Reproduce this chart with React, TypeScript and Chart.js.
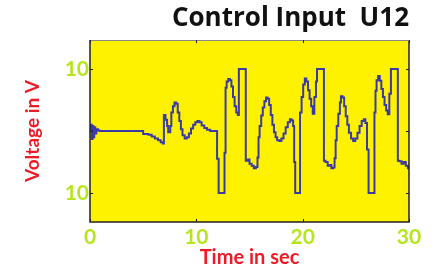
import React, { useEffect, useRef } from "react";
import { Chart, registerables } from "chart.js";

Chart.register(...registerables);

const titleText = "Control Input  U12";
const xTitle = "Time in sec";
const yTitle = "Voltage in V";

const xTickValues = [0, 10, 20, 30];
const yTickValues = [-10, 0, 10];
const yTickLabels = ["10", "", "10"];

const times = [
  0, 0.08, 0.16, 0.24, 0.32, 0.4, 0.5, 0.6, 0.75, 0.9,
  5.0, 5.5, 5.8, 6.1, 6.4, 6.65, 6.85, 6.95, 7.1, 7.25,
  7.35, 7.55, 7.65, 7.8, 7.95, 8.1, 8.25, 8.4, 8.55, 8.7,
  8.9, 9.1, 9.3, 9.5, 9.7, 9.9, 10.1, 10.3, 10.5, 10.75,
  11.0, 11.3, 11.6, 11.95, 12.1, 12.65, 12.75, 12.85, 13.0, 13.15,
  13.3, 13.45, 13.6, 13.75, 13.9, 14.0, 14.65, 14.85, 15.0, 15.2,
  15.4, 15.6, 15.75, 15.85, 15.95, 16.1, 16.25, 16.4, 16.55, 16.7,
  16.85, 17.0, 17.15, 17.3, 17.45, 17.6, 17.8, 18.0, 18.2, 18.4,
  18.6, 18.8, 18.95, 19.1, 19.2, 19.3, 19.75, 19.9, 20.05, 20.2,
  20.35, 20.5, 20.65, 20.8, 20.95, 21.1, 21.25, 21.35, 22.0, 22.15,
  22.35, 22.55, 22.7, 22.85, 23.0, 23.1, 23.2, 23.35, 23.5, 23.6,
  23.75, 23.9, 24.05, 24.2, 24.35, 24.55, 24.75, 24.95, 25.15, 25.35,
  25.55, 25.75, 25.9, 26.05, 26.2, 26.75, 26.85, 26.95, 27.1, 27.25,
  27.4, 27.55, 27.7, 27.85, 28.0, 28.15, 28.3, 28.95, 29.1, 29.3,
  29.5, 29.7, 29.9, 30,
];

const voltages = [
  0, 1.0, -1.3, 0.8, -1.0, 0.6, -0.4, 0.3, 0.1, 0,
  -0.5, -0.6, -0.9, -1.2, -1.5, -1.8, -2.0, 2.6, 1.8, 0.8,
  -0.2, 0.8, 3.0, 4.0, 4.6, 4.4, 3.0, 1.6, 0.3, -0.7,
  -1.2, -1.0, -0.4, 0.4, 1.0, 1.4, 1.6, 1.4, 0.9, 0.5,
  0.2, 0.0, 0.0, -4.5, -10, -3.5, 7.0, 8.0, 8.4, 8.2,
  7.2, 5.5, 4.0, 3.0, 2.6, 10, -4.8, -4.6, -5.3, -5.6,
  -6.0, -5.8, -4.3, -1.0, 0.8, 2.5, 3.8, 4.8, 5.4, 5.2,
  4.2, 2.6, 1.0, -0.2, -1.0, -1.5, -1.6, -1.2, -0.4, 0.6,
  1.4, 1.9, 1.7, 0.8, -5.0, -10, 3.0, 5.5, 7.5, 8.5,
  8.0, 6.6, 5.2, 4.0, 2.8, 5.5, 8.0, 10, -4.8, -5.0,
  -5.6, -5.5, -6.0, -5.9, -4.4, -1.5, 0.8, 2.8, 4.6, 5.6,
  5.4, 4.0, 2.4, 1.0, -0.3, -1.2, -1.6, -1.2, -0.3, 0.8,
  1.6, 1.9, 1.3, -3.0, -10, 3.0, 6.5, 8.2, 8.9, 8.1,
  6.8, 5.5, 4.2, 3.3, 2.7, 6.0, 10, -4.8, -4.9, -5.3,
  -5.0, -5.6, -6.0, -6.0,
];

const YELLOW = "#FFF200";
const GREEN = "#B5E61D";
const RED = "#ED1C24";
const LINE = "#3a3aa6";

const framePlugin = {
  id: "frame",
  beforeDatasetsDraw(chart: any) {
    const { ctx, chartArea: a } = chart;
    ctx.save();
    ctx.fillStyle = YELLOW;
    ctx.fillRect(a.left, a.top, a.right - a.left, a.bottom - a.top);
    ctx.restore();
  },
  afterDatasetsDraw(chart: any) {
    const { ctx, chartArea: a, scales } = chart;
    ctx.save();
    ctx.strokeStyle = "#222";
    ctx.lineWidth = 1.5;
    ctx.beginPath();
    ctx.moveTo(a.left, a.top);
    ctx.lineTo(a.left, a.bottom);
    ctx.lineTo(a.right, a.bottom);
    ctx.lineTo(a.right, a.top);
    ctx.stroke();
    ctx.strokeStyle = "#888";
    ctx.lineWidth = 1;
    ctx.beginPath();
    ctx.moveTo(a.left, a.top + 0.5);
    ctx.lineTo(a.right, a.top + 0.5);
    ctx.stroke();
    ctx.strokeStyle = "#222";
    ctx.beginPath();
    for (const v of xTickValues) {
      const px = Math.round(scales.x.getPixelForValue(v)) + 0.5;
      ctx.moveTo(px, a.bottom);
      ctx.lineTo(px, a.bottom - 3);
      ctx.moveTo(px, a.top);
      ctx.lineTo(px, a.top + 3);
    }
    for (const v of yTickValues) {
      const py = Math.round(scales.y.getPixelForValue(v)) + 0.5;
      ctx.moveTo(a.left, py);
      ctx.lineTo(a.left + 3, py);
      ctx.moveTo(a.right, py);
      ctx.lineTo(a.right - 3, py);
    }
    ctx.stroke();
    ctx.restore();
  },
  afterDraw(chart: any) {
    const { ctx, chartArea: a } = chart;
    ctx.save();
    ctx.fillStyle = "#111";
    ctx.font = "bold 26px 'Open Sans'";
    ctx.textAlign = "right";
    ctx.textBaseline = "middle";
    ctx.fillText(titleText, a.right, 19);
    ctx.restore();
  },
};

export default function App() {
  const ref = useRef<HTMLCanvasElement | null>(null);
  useEffect(() => {
    if (!ref.current) return;
    const points = times.map((t, i) => ({ x: t, y: voltages[i] }));
    const chart = new Chart(ref.current, {
      type: "line",
      data: {
        datasets: [
          {
            data: points,
            borderColor: LINE,
            borderWidth: 2,
            pointRadius: 0,
            stepped: "before",
            fill: false,
          },
        ],
      },
      options: {
        animation: false,
        responsive: true,
        maintainAspectRatio: false,
        layout: { padding: { top: 40, right: 38, left: 0, bottom: 0 } },
        plugins: { legend: { display: false }, tooltip: { enabled: false }, title: { display: false } },
        scales: {
          x: {
            type: "linear",
            min: 0,
            max: 30,
            afterBuildTicks: (s: any) => {
              s.ticks = xTickValues.map((v) => ({ value: v }));
            },
            afterFit: (s: any) => {
              s.height = 53;
            },
            grid: { display: false, drawTicks: false },
            border: { display: false },
            ticks: {
              color: GREEN,
              padding: 3,
              maxRotation: 0,
              font: { family: "Lato", size: 21, weight: "bold" },
            },
            title: {
              display: true,
              text: xTitle,
              color: RED,
              font: { family: "Lato", size: 20, weight: "bold" },
              padding: { top: 0, bottom: 5 },
            },
          },
          y: {
            type: "linear",
            min: -14.7,
            max: 14.7,
            afterBuildTicks: (s: any) => {
              s.ticks = yTickValues.map((v) => ({ value: v }));
            },
            afterFit: (s: any) => {
              s.width = 90;
            },
            grid: { display: false, drawTicks: false },
            border: { display: false },
            ticks: {
              color: GREEN,
              padding: 1,
              font: { family: "Lato", size: 21, weight: "bold" },
              callback: (v: any) => {
                const i = yTickValues.indexOf(Number(v));
                return i >= 0 ? yTickLabels[i] : "";
              },
            },
            title: {
              display: true,
              text: yTitle,
              color: RED,
              font: { family: "Lato", size: 19, weight: "bold" },
              padding: { top: 21, bottom: 0 },
            },
          },
        },
      },
      plugins: [framePlugin],
    });
    return () => chart.destroy();
  }, []);
  return (
    <div style={{ position: "fixed", left: 0, top: 0, width: 447, height: 275, background: "#fff" }}>
      <canvas ref={ref} />
    </div>
  );
}
